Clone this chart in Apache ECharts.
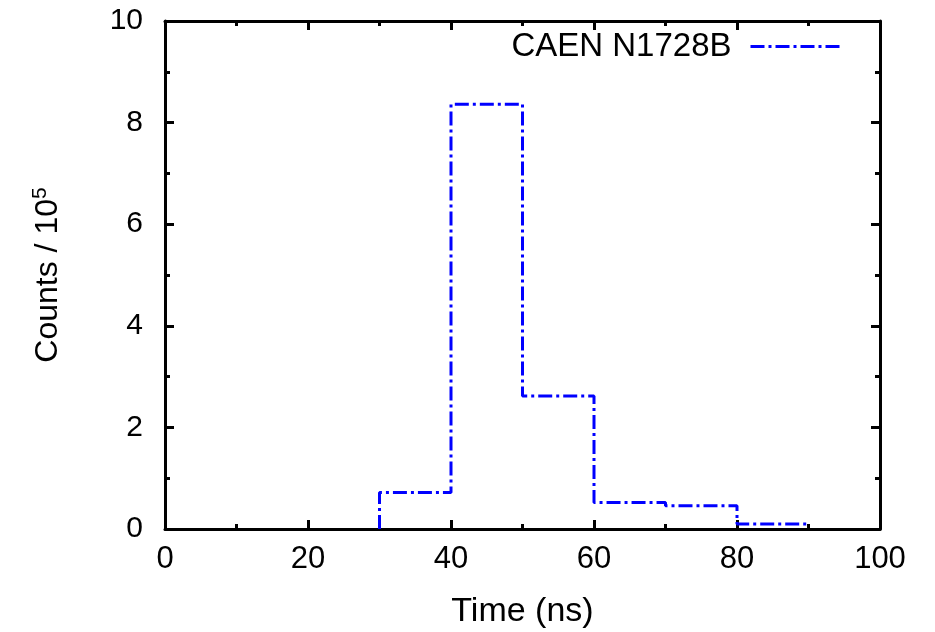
<!DOCTYPE html>
<html>
<head>
<meta charset="utf-8">
<script src="https://cdn.jsdelivr.net/npm/echarts@6/dist/echarts.min.js"></script>
<style>
html,body{margin:0;padding:0;background:#fff;overflow:hidden;}
#chart{width:935px;height:632px;}
</style>
</head>
<body>
<div id="chart"></div>
<script>
// Histogram bin edges (ns) and counts (x 10^5)
var binEdges = [30, 40, 50, 60, 70, 80, 90];
var binCounts = [0.72, 8.36, 2.62, 0.52, 0.46, 0.10];
var seriesName = 'CAEN N1728B';
var xTicks = [0, 20, 40, 60, 80, 100];
var yTicks = [0, 2, 4, 6, 8, 10];

var stepData = [[binEdges[0], 0]];
for (var i = 0; i < binCounts.length; i++) {
  stepData.push([binEdges[i], binCounts[i]]);
  stepData.push([binEdges[i + 1], binCounts[i]]);
}

var FONT = 'Liberation Sans, Arial, sans-serif';
var axisCommon = {
  axisLine: {show: true, onZero: false, lineStyle: {color: '#000', width: 3}},
  axisTick: {show: true, inside: true, length: 9, lineStyle: {color: '#000', width: 3}},
  minorTick: {show: true, splitNumber: 2, length: 5, lineStyle: {color: '#000', width: 3}},
  splitLine: {show: false}
};

var chart = echarts.init(document.getElementById('chart'), null, {renderer: 'canvas', width: 935, height: 632});
chart.setOption({
  animation: false,
  backgroundColor: '#fff',
  grid: {left: 165, right: 55, top: 21, bottom: 103, containLabel: false, outerBoundsMode: 'none'},
  legend: {
    show: true,
    right: 93, top: 30, padding: 0,
    align: 'right',
    itemWidth: 90, itemHeight: 14,
    data: [seriesName],
    itemStyle: {color: 'rgba(0,0,0,0)', borderWidth: 0, opacity: 0},
    lineStyle: {color: '#0000ff', width: 3, type: [14, 4, 3, 4], opacity: 1},
    textStyle: {fontFamily: FONT, fontSize: 33, color: '#000', padding: [0, 14, 0, 0]}
  },
  xAxis: [
    Object.assign({
      type: 'value', min: xTicks[0], max: xTicks[xTicks.length - 1], interval: 20,
      position: 'bottom',
      name: 'Time (ns)', nameLocation: 'middle', nameGap: 66,
      nameTextStyle: {fontFamily: FONT, fontSize: 34, color: '#000'},
      axisLabel: {fontFamily: FONT, fontSize: 31, color: '#000', margin: 15}
    }, axisCommon),
    Object.assign({
      type: 'value', min: xTicks[0], max: xTicks[xTicks.length - 1], interval: 20,
      position: 'top', axisLabel: {show: false}
    }, axisCommon)
  ],
  yAxis: [
    Object.assign({
      type: 'value', min: yTicks[0], max: yTicks[yTicks.length - 1], interval: 2,
      position: 'left',
      name: '{b|Counts / 10}{s|5}', nameLocation: 'middle', nameGap: 98, nameRotate: 90,
      nameTextStyle: {
        rich: {
          b: {fontFamily: FONT, fontSize: 32, color: '#000'},
          s: {fontFamily: FONT, fontSize: 21, color: '#000', verticalAlign: 'top', padding: [0, 0, 16, 0]}
        }
      },
      axisLabel: {fontFamily: FONT, fontSize: 30, color: '#000', margin: 22}
    }, axisCommon),
    Object.assign({
      type: 'value', min: yTicks[0], max: yTicks[yTicks.length - 1], interval: 2,
      position: 'right', axisLabel: {show: false}
    }, axisCommon)
  ],
  series: [{
    name: seriesName,
    type: 'line',
    xAxisIndex: 0, yAxisIndex: 0,
    data: stepData,
    symbol: 'none',
    showSymbol: false,
    itemStyle: {color: '#0000ff'},
    lineStyle: {color: '#0000ff', width: 3, type: [14, 4, 3, 4]},
    z: 1
  }]
});
</script>
</body>
</html>
